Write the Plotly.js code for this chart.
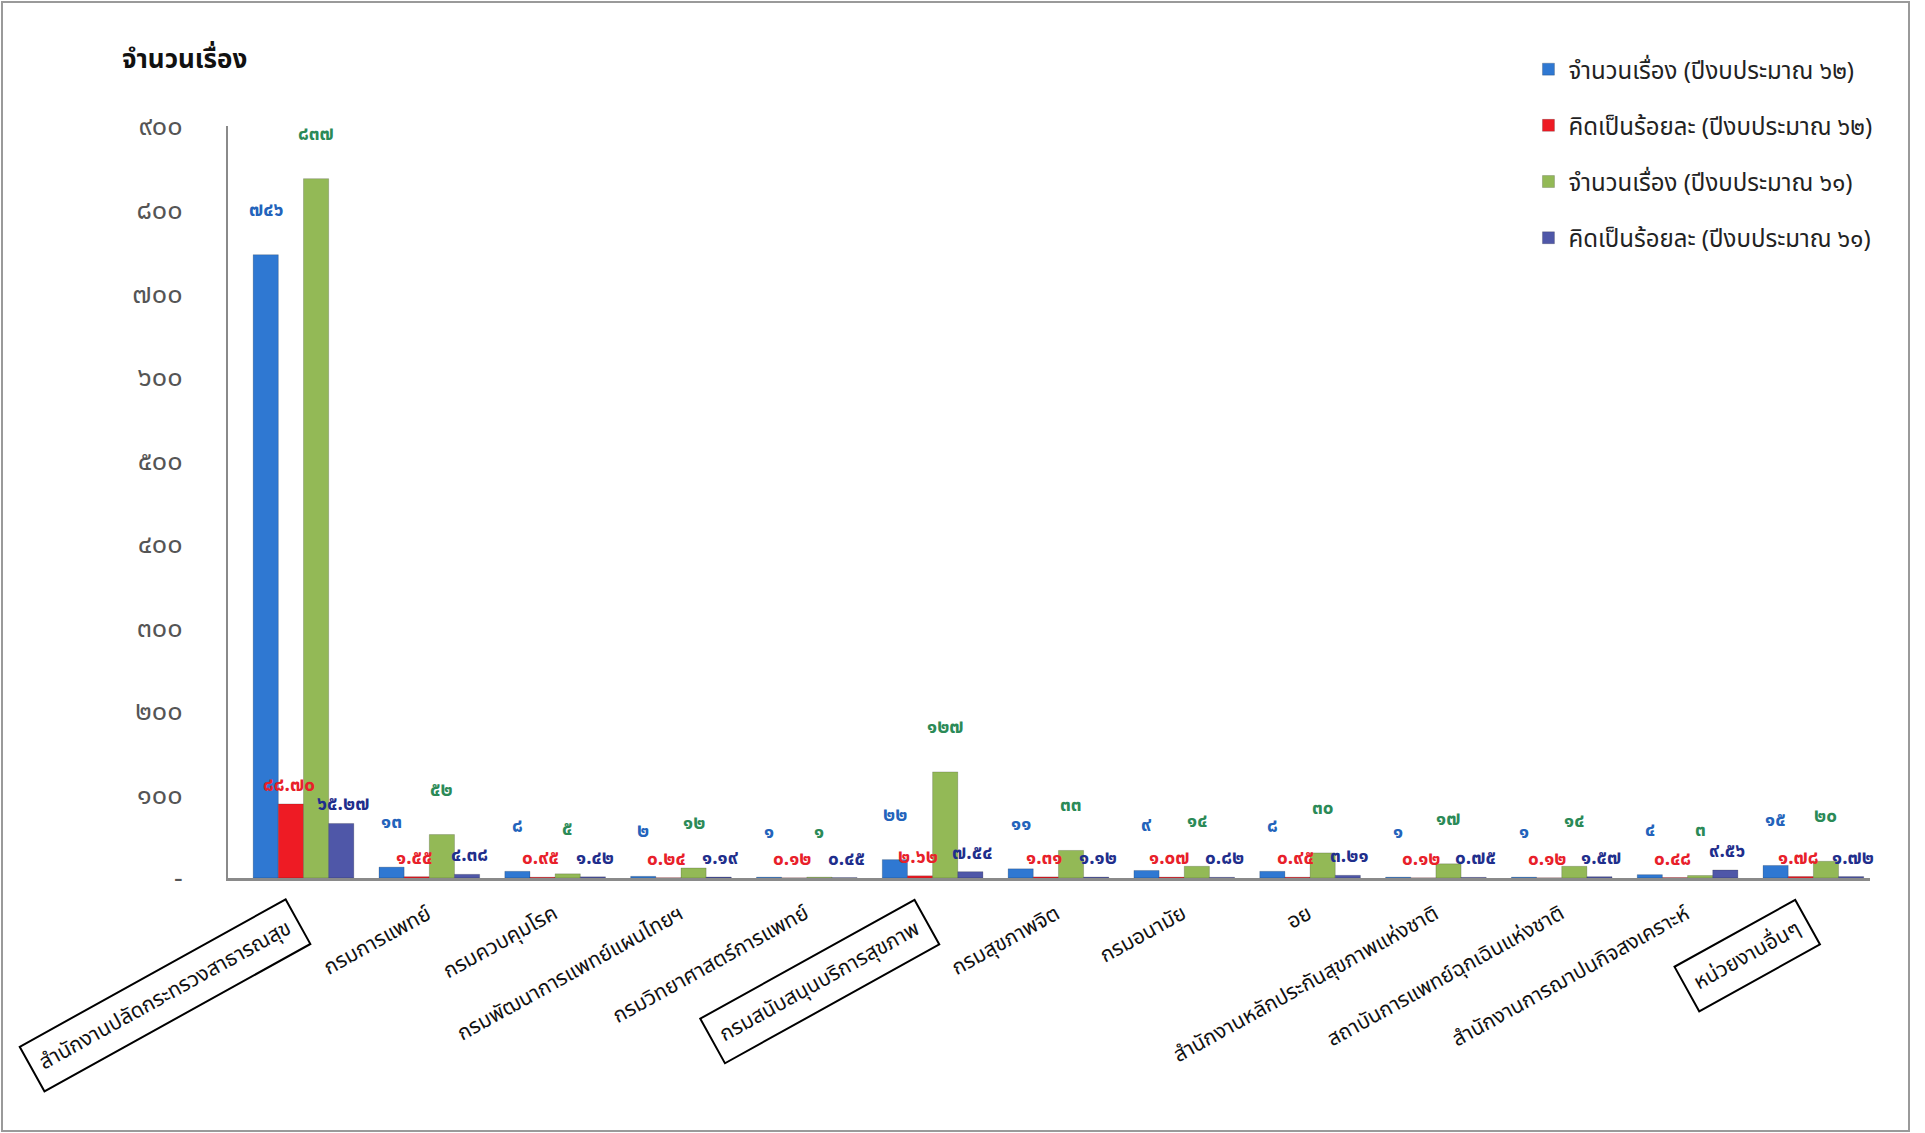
<!DOCTYPE html>
<html>
<head>
<meta charset="utf-8">
<script src="https://cdn.plot.ly/plotly-3.0.1.min.js"></script>
<style>
html,body{margin:0;padding:0;background:#ffffff;}
#chart{width:1925px;height:1133px;}
</style>
</head>
<body>
<div id="chart"></div>
<script>
// ---- data ----
const categories = [
  "สำนักงานปลัดกระทรวงสาธารณสุข",
  "กรมการแพทย์",
  "กรมควบคุมโรค",
  "กรมพัฒนาการแพทย์แผนไทยฯ",
  "กรมวิทยาศาสตร์การแพทย์",
  "กรมสนับสนุนบริการสุขภาพ",
  "กรมสุขภาพจิต",
  "กรมอนามัย",
  "อย",
  "สำนักงานหลักประกันสุขภาพแห่งชาติ",
  "สถาบันการแพทย์ฉุกเฉินแห่งชาติ",
  "สำนักงานการฌาปนกิจสงเคราะห์",
  "หน่วยงานอื่นๆ"
];
const boxedCategories = ["สำนักงานปลัดกระทรวงสาธารณสุข", "กรมสนับสนุนบริการสุขภาพ", "หน่วยงานอื่นๆ"];
const count62   = [746, 13, 8, 2, 1, 22, 11, 9, 8, 1, 1, 4, 15];
const percent62 = [88.70, 1.55, 0.95, 0.24, 0.12, 2.62, 1.31, 1.07, 0.95, 0.12, 0.12, 0.48, 1.78];
const count61   = [837, 52, 5, 12, 1, 127, 33, 14, 30, 17, 14, 3, 20];
const percent61 = [65.27, 4.38, 1.42, 1.19, 0.45, 7.54, 1.12, 0.82, 3.21, 0.75, 1.57, 9.56, 1.72];
const seriesNames = [
  "จำนวนเรื่อง (ปีงบประมาณ ๖๒)",
  "คิดเป็นร้อยละ (ปีงบประมาณ ๖๒)",
  "จำนวนเรื่อง (ปีงบประมาณ ๖๑)",
  "คิดเป็นร้อยละ (ปีงบประมาณ ๖๑)"
];
const yTickValues = [0, 100, 200, 300, 400, 500, 600, 700, 800, 900];
const yTitle = "จำนวนเรื่อง";

// ---- helpers ----
const thaiDigits = "๐๑๒๓๔๕๖๗๘๙";
function toThai(s){ return String(s).replace(/[0-9]/g, d => thaiDigits[+d]); }

const barColors   = ["#2f78d2", "#ee1b24", "#93b956", "#4f57a8"];
const labelColors = ["#2363bb", "#e8202a", "#2b8a57", "#1f2e8c"];
const fontThai = "'Noto Sans Thai', 'Noto Sans', 'DejaVu Sans', sans-serif";

const W = 1925, H = 1133;
const M = {l: 228, r: 55, t: 126, b: 255};
const xRange = [-0.6, 12.45];
const bargap = 0.2;
const pxPerCat = (W - M.l - M.r) / (xRange[1] - xRange[0]);
const barW = pxPerCat * (1 - bargap) / 4;

const allSeries = [
  {vals: count62, pct: false, raised: true},
  {vals: percent62, pct: true, raised: false},
  {vals: count61, pct: false, raised: true},
  {vals: percent61, pct: true, raised: false}
];

const traces = allSeries.map((s, idx) => ({
  type: "bar",
  name: seriesNames[idx],
  x: categories,
  y: s.vals,
  legendgroup: "g" + idx,
  marker: {color: barColors[idx], line: {color: "rgba(0,0,0,0.18)", width: 1}},
  hoverinfo: "x+y+name"
}));

const annotations = [];
// value labels
allSeries.forEach((s, idx) => {
  s.vals.forEach((v, i) => {
    annotations.push({
      x: categories[i], xref: "x", y: v, yref: "y",
      xshift: (idx - 1.5) * barW + (s.pct ? (idx === 1 ? -2 : 2) : 0),
      yshift: s.raised ? 28 : 2,
      xanchor: "center", yanchor: "bottom",
      text: toThai(s.pct ? v.toFixed(2) : v),
      showarrow: false,
      font: {family: fontThai, size: 19, color: labelColors[idx], weight: 700}
    });
  });
});
// category labels
categories.forEach(c => {
  const boxed = boxedCategories.indexOf(c) >= 0;
  annotations.push({
    x: c, xref: "x", y: 0, yref: "paper",
    yshift: -20, xshift: 8,
    xanchor: "right", yanchor: "top",
    text: c, showarrow: false, textangle: -29,
    font: {family: fontThai, size: 21, color: "#111"},
    bordercolor: boxed ? "#000" : "rgba(0,0,0,0)",
    borderwidth: boxed ? 2 : 0,
    borderpad: boxed ? 9 : 0
  });
});
annotations.push({
  x: -0.066, xref: "paper", y: 1.088, yref: "paper",
  xanchor: "left", yanchor: "middle",
  text: "<b>" + yTitle + "</b>", showarrow: false,
  font: {family: fontThai, size: 26, color: "#111"}
});

const layout = {
  width: W, height: H,
  margin: M,
  paper_bgcolor: "#ffffff",
  plot_bgcolor: "#ffffff",
  barmode: "group",
  bargap: bargap,
  bargroupgap: 0,
  showlegend: true,
  legend: {
    x: 0.792, xanchor: "left", y: 1.105, yanchor: "top",
    font: {family: fontThai, size: 24, color: "#222"},
    tracegroupgap: 22,
    bgcolor: "rgba(0,0,0,0)"
  },
  xaxis: {
    type: "category",
    range: xRange,
    showticklabels: false,
    showgrid: false,
    zeroline: false,
    showline: true, linecolor: "#8a8a8a", linewidth: 3,
    ticks: ""
  },
  yaxis: {
    range: [0, 900],
    tickvals: yTickValues,
    ticktext: yTickValues.map(v => v === 0 ? "-" : toThai(v)),
    tickfont: {family: fontThai, size: 27, color: "#555"},
    ticklabelstandoff: 38,
    showgrid: false,
    zeroline: false,
    showline: true, linecolor: "#8a8a8a", linewidth: 2,
    ticks: ""
  },
  shapes: [{
    type: "rect", xref: "paper", yref: "paper",
    x0: (2 - M.l) / (W - M.l - M.r), x1: (1909 - M.l) / (W - M.l - M.r),
    y0: -(H - 2 - (H - M.b)) / (H - M.t - M.b), y1: (H - M.b - 2) / (H - M.t - M.b),
    line: {color: "#9a9a9a", width: 2}, fillcolor: "rgba(0,0,0,0)", layer: "below"
  }],
  annotations: annotations,
  font: {family: fontThai}
};

Plotly.newPlot("chart", traces, layout, {displayModeBar: false, staticPlot: true});
</script>
</body>
</html>
